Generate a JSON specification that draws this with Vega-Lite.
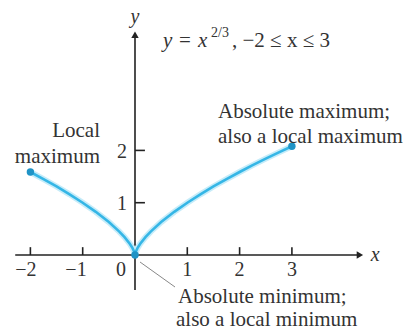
{
  "$schema": "https://vega.github.io/schema/vega-lite/v6.json",
  "width": 403,
  "height": 330,
  "padding": 0,
  "autosize": "none",
  "background": "white",
  "config": {"view": {"stroke": null}, "text": {"font": "Liberation Serif", "fontSize": 21, "color": "#333333"}},
  "datasets": {
    "curve": [
      {"x": -2, "y": 1.5874}, {"x": -1.75, "y": 1.4522}, {"x": -1.5, "y": 1.3104}, {"x": -1.25, "y": 1.160},
      {"x": -1, "y": 1}, {"x": -0.75, "y": 0.8255}, {"x": -0.5, "y": 0.63}, {"x": -0.3, "y": 0.4481},
      {"x": -0.2, "y": 0.342}, {"x": -0.1, "y": 0.2154}, {"x": -0.05, "y": 0.1357}, {"x": -0.02, "y": 0.0737},
      {"x": -0.01, "y": 0.0464}, {"x": 0, "y": 0}, {"x": 0.01, "y": 0.0464}, {"x": 0.02, "y": 0.0737},
      {"x": 0.05, "y": 0.1357}, {"x": 0.1, "y": 0.2154}, {"x": 0.2, "y": 0.342}, {"x": 0.3, "y": 0.4481},
      {"x": 0.5, "y": 0.63}, {"x": 0.75, "y": 0.8255}, {"x": 1, "y": 1}, {"x": 1.25, "y": 1.16},
      {"x": 1.5, "y": 1.3104}, {"x": 1.75, "y": 1.4522}, {"x": 2, "y": 1.5874}, {"x": 2.25, "y": 1.7171},
      {"x": 2.5, "y": 1.842}, {"x": 2.75, "y": 1.963}, {"x": 3, "y": 2.0801}
    ],
    "dots": [{"x": -2, "y": 1.5874}, {"x": 0, "y": 0}, {"x": 3, "y": 2.0801}],
    "axes": [
      {"x": -2.29, "y": 0, "x2": 4.25, "y2": 0},
      {"x": 0, "y": -0.67, "x2": 0, "y2": 4.15}
    ],
    "ticks": [
      {"x": -2, "y": 0, "x2": -2, "y2": 0.15},
      {"x": -1, "y": 0, "x2": -1, "y2": 0.15},
      {"x": 1, "y": 0, "x2": 1, "y2": 0.15},
      {"x": 2, "y": 0, "x2": 2, "y2": 0.15},
      {"x": 3, "y": 0, "x2": 3, "y2": 0.15},
      {"x": 0, "y": 1, "x2": 0.19, "y2": 1},
      {"x": 0, "y": 2, "x2": 0.19, "y2": 2}
    ],
    "leader": [{"x": 0.096, "y": -0.134, "x2": 0.765, "y2": -0.612}],
    "arrowR": [{"x": 4.3, "y": 0}],
    "arrowU": [{"x": 0, "y": 4.21}],
    "xlabels": [
      {"x": -2.088, "y": -0.29, "t": "−2"}, {"x": -1.128, "y": -0.29, "t": "−1"}, {"x": -0.268, "y": -0.29, "t": "0"},
      {"x": 1, "y": -0.29, "t": "1"}, {"x": 2, "y": -0.29, "t": "2"}, {"x": 3, "y": -0.29, "t": "3"}
    ],
    "ylabels": [{"x": -0.153, "y": 0.975, "t": "1"}, {"x": -0.153, "y": 1.97, "t": "2"}],
    "leftnotes": [{"x": -0.669, "y": 2.371, "t": "Local"}, {"x": -0.669, "y": 1.874, "t": "maximum"}],
    "rightnotes": [
      {"x": 1.587, "y": 2.734, "t": "Absolute maximum;"},
      {"x": 1.587, "y": 2.256, "t": "also a local maximum"},
      {"x": 0.822, "y": -0.803, "t": "Absolute minimum;"},
      {"x": 0.784, "y": -1.243, "t": "also a local minimum"}
    ],
    "italics": [
      {"x": 0.535, "y": 3.977, "t": "y"},
      {"x": 1.205, "y": 3.977, "t": "x"}
    ],
    "axisnames": [
      {"x": 0, "y": 4.55, "t": "y"},
      {"x": 4.59, "y": 0, "t": "x"}
    ],
    "eq": [{"x": 0.956, "y": 3.977, "t": "="}],
    "sup": [{"x": 1.453, "y": 4.168, "t": "2/3"}],
    "rest": [{"x": 1.855, "y": 3.977, "t": ", −2 ≤ x ≤ 3"}]
  },
  "encoding": {
    "x": {"field": "x", "type": "quantitative", "scale": {"domain": [-2.581, 5.124], "nice": false, "zero": false}, "axis": null},
    "y": {"field": "y", "type": "quantitative", "scale": {"domain": [-1.434, 4.876], "nice": false, "zero": false}, "axis": null}
  },
  "layer": [
    {"data": {"name": "axes"}, "mark": {"type": "rule", "color": "#222222", "strokeWidth": 1.6},
     "encoding": {"x2": {"field": "x2"}, "y2": {"field": "y2"}}},
    {"data": {"name": "ticks"}, "mark": {"type": "rule", "color": "#222222", "strokeWidth": 1.6},
     "encoding": {"x2": {"field": "x2"}, "y2": {"field": "y2"}}},
    {"data": {"name": "arrowR"}, "mark": {"type": "point", "shape": "triangle-right", "filled": true, "color": "#222222", "size": 55, "opacity": 1}},
    {"data": {"name": "arrowU"}, "mark": {"type": "point", "shape": "triangle-up", "filled": true, "color": "#222222", "size": 55, "opacity": 1}},
    {"data": {"name": "leader"}, "mark": {"type": "rule", "color": "#888888", "strokeWidth": 1},
     "encoding": {"x2": {"field": "x2"}, "y2": {"field": "y2"}}},
    {"data": {"name": "curve"}, "mark": {"type": "line", "color": "#c6ecf9", "strokeWidth": 6, "interpolate": "linear"}},
    {"data": {"name": "curve"}, "mark": {"type": "line", "color": "#35b6e6", "strokeWidth": 2.6, "interpolate": "linear"}},
    {"data": {"name": "dots"}, "mark": {"type": "circle", "color": "#1f93c6", "size": 55, "opacity": 1}},
    {"data": {"name": "xlabels"}, "mark": {"type": "text", "align": "center", "baseline": "middle", "fontSize": 20}, "encoding": {"text": {"field": "t"}}},
    {"data": {"name": "ylabels"}, "mark": {"type": "text", "align": "right", "baseline": "middle", "fontSize": 20}, "encoding": {"text": {"field": "t"}}},
    {"data": {"name": "leftnotes"}, "mark": {"type": "text", "align": "right", "baseline": "middle"}, "encoding": {"text": {"field": "t"}}},
    {"data": {"name": "rightnotes"}, "mark": {"type": "text", "align": "left", "baseline": "middle"}, "encoding": {"text": {"field": "t"}}},
    {"data": {"name": "italics"}, "mark": {"type": "text", "align": "left", "baseline": "alphabetic", "fontStyle": "italic"}, "encoding": {"text": {"field": "t"}}},
    {"data": {"name": "axisnames"}, "mark": {"type": "text", "align": "center", "baseline": "middle", "fontStyle": "italic", "fontSize": 20}, "encoding": {"text": {"field": "t"}}},
    {"data": {"name": "eq"}, "mark": {"type": "text", "align": "center", "baseline": "alphabetic"}, "encoding": {"text": {"field": "t"}}},
    {"data": {"name": "sup"}, "mark": {"type": "text", "align": "left", "baseline": "alphabetic", "fontSize": 14}, "encoding": {"text": {"field": "t"}}},
    {"data": {"name": "rest"}, "mark": {"type": "text", "align": "left", "baseline": "alphabetic"}, "encoding": {"text": {"field": "t"}}}
  ]
}
